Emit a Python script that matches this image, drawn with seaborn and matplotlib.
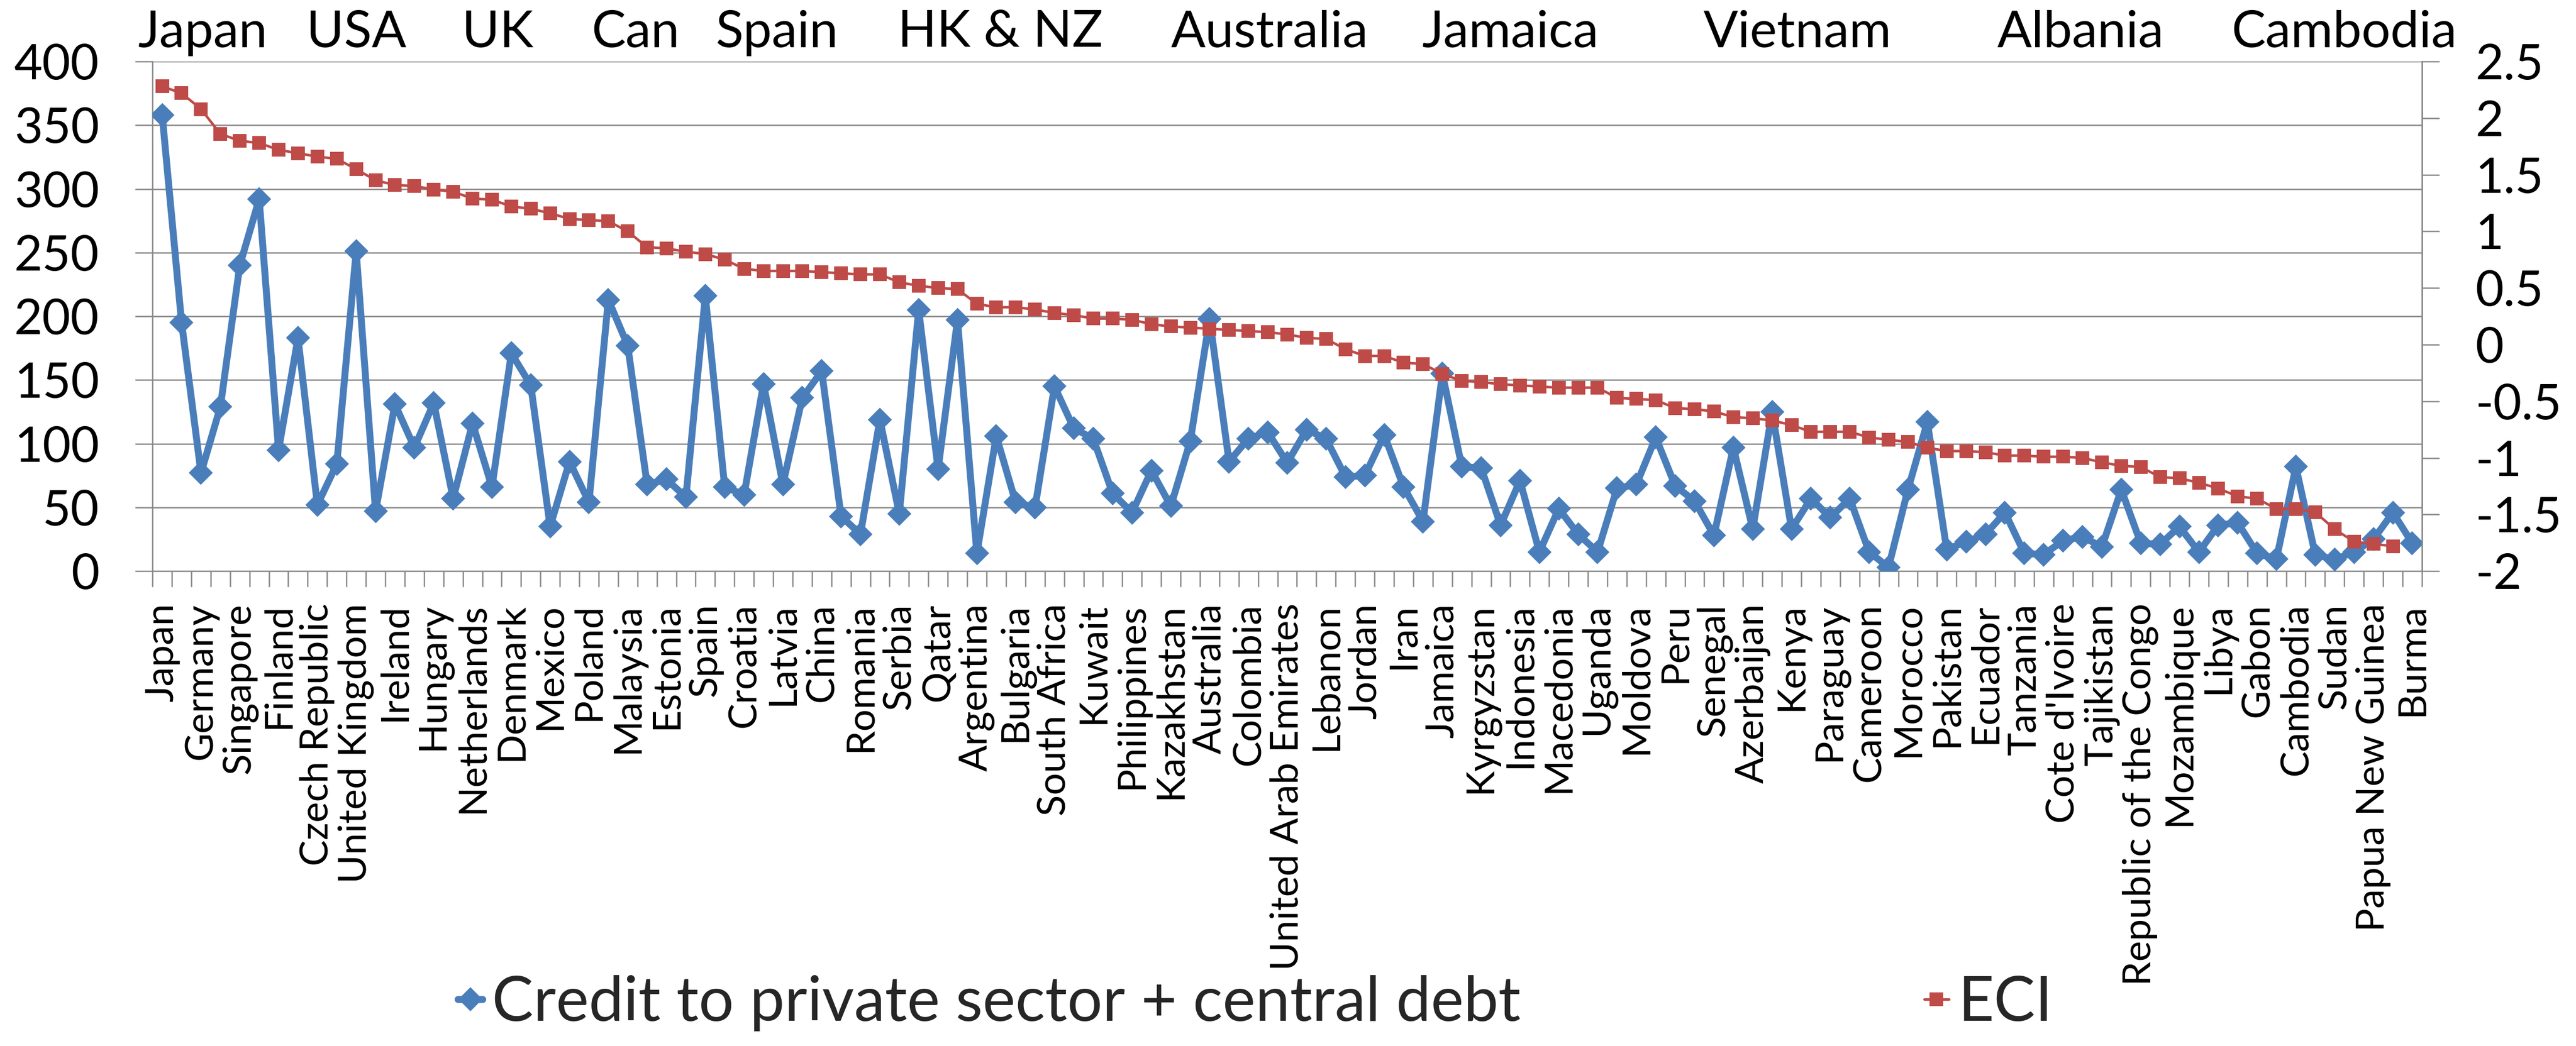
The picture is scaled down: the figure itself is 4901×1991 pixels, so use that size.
import numpy as np
import pandas as pd
import matplotlib
matplotlib.use("Agg")
import matplotlib.pyplot as plt
import matplotlib.transforms as mtransforms
from matplotlib.lines import Line2D
from matplotlib.ticker import FuncFormatter
import seaborn as sns

# Country labels shown under every second category
tick_labels = [
    "Japan", "Germany", "Singapore", "Finland", "Czech Republic", "United Kingdom",
    "Ireland", "Hungary", "Netherlands", "Denmark", "Mexico", "Poland", "Malaysia",
    "Estonia", "Spain", "Croatia", "Latvia", "China", "Romania", "Serbia", "Qatar",
    "Argentina", "Bulgaria", "South Africa", "Kuwait", "Philippines", "Kazakhstan",
    "Australia", "Colombia", "United Arab Emirates", "Lebanon", "Jordan", "Iran",
    "Jamaica", "Kyrgyzstan", "Indonesia", "Macedonia", "Uganda", "Moldova", "Peru",
    "Senegal", "Azerbaijan", "Kenya", "Paraguay", "Cameroon", "Morocco", "Pakistan",
    "Ecuador", "Tanzania", "Cote d'Ivoire", "Tajikistan", "Republic of the Congo",
    "Mozambique", "Libya", "Gabon", "Cambodia", "Sudan", "Papua New Guinea", "Burma",
]

# Credit to private sector + central government debt (% of GDP)
credit = [
    358, 195, 77, 129, 240, 292, 95, 183, 52, 84,
    251, 47, 131, 97, 132, 57, 116, 66, 171, 146,
    35, 86, 54, 213, 177, 68, 72, 58, 216, 66,
    60, 147, 68, 136, 157, 43, 29, 119, 45, 205,
    80, 197, 14, 106, 54, 50, 145, 112, 104, 61,
    46, 79, 51, 102, 198, 86, 104, 109, 85, 111,
    104, 74, 75, 107, 66, 39, 155, 82, 81, 36,
    71, 15, 49, 29, 15, 65, 68, 105, 67, 55,
    28, 97, 33, 125, 33, 57, 42, 57, 15, 3,
    64, 117, 17, 23, 29, 46, 14, 13, 24, 27,
    19, 64, 22, 21, 35, 15, 36, 38, 14, 9.5,
    82, 13, 9, 15, 25, 46, 22,
]

# Economic Complexity Index (no value for the last country)
eci = [
    2.28, 2.22, 2.08, 1.86, 1.80, 1.78, 1.72, 1.69, 1.66, 1.64,
    1.55, 1.45, 1.41, 1.40, 1.37, 1.35, 1.29, 1.28, 1.22, 1.20,
    1.16, 1.11, 1.10, 1.09, 1.00, 0.86, 0.85, 0.82, 0.80, 0.75,
    0.67, 0.65, 0.65, 0.65, 0.64, 0.63, 0.62, 0.62, 0.55, 0.52,
    0.50, 0.49, 0.36, 0.33, 0.33, 0.31, 0.28, 0.26, 0.23, 0.23,
    0.22, 0.18, 0.16, 0.15, 0.14, 0.13, 0.12, 0.11, 0.09, 0.06,
    0.05, -0.04, -0.10, -0.10, -0.16, -0.17, -0.26, -0.32, -0.33, -0.35,
    -0.36, -0.37, -0.38, -0.38, -0.38, -0.47, -0.48, -0.49, -0.56, -0.57,
    -0.59, -0.64, -0.65, -0.67, -0.71, -0.77, -0.77, -0.77, -0.82, -0.84,
    -0.86, -0.91, -0.94, -0.94, -0.95, -0.98, -0.98, -0.99, -0.99, -1.00,
    -1.04, -1.07, -1.08, -1.17, -1.18, -1.22, -1.27, -1.34, -1.36, -1.45,
    -1.45, -1.48, -1.63, -1.74, -1.76, -1.78, np.nan,
]

# Headline country names written above the plot
headline_labels = ["Japan", "USA", "UK", "Can", "Spain", "HK & NZ", "Australia",
                   "Jamaica", "Vietnam", "Albania", "Cambodia"]
headline_pos = [2.1, 10.0, 17.3, 24.4, 31.7, 43.2, 57.1, 69.5, 84.3, 98.9, 112.5]

series_names = ["Credit to private sector + central debt", "ECI"]

sns.set_style("white")
plt.rcParams["font.family"] = ["Lato", "DejaVu Sans"]
plt.rcParams["axes.unicode_minus"] = False

BLUE = "#4A7EBB"
RED = "#BE4B48"
GRID = "#878787"

n = len(credit)
df = pd.DataFrame({"pos": np.arange(n), "credit": credit, "eci": eci})

fig = plt.figure(figsize=(49.01, 19.91), dpi=100)
ax = fig.add_axes([0.0592, 0.4540, 0.9402 - 0.0592, 0.9412 - 0.4540])
ax2 = ax.twinx()

sns.lineplot(data=df, x="pos", y="credit", ax=ax, color=BLUE, linewidth=9.5,
             marker="D", markersize=20, mew=3, mec=BLUE, legend=False, zorder=3)
sns.lineplot(data=df, x="pos", y="eci", ax=ax2, color=RED, linewidth=3.5,
             marker="s", markersize=17, mew=1.5, mec=RED, legend=False, zorder=4)

# Left axis
ax.set_ylim(0, 400)
ax.set_yticks(np.arange(0, 401, 50))
ax.yaxis.set_major_formatter(FuncFormatter(lambda v, p: f"{v:g}"))
ax.grid(axis="y", color=GRID, linewidth=1.8)
ax.grid(axis="x", visible=False)
ax.set_axisbelow(True)
ax.tick_params(axis="y", which="major", left=True, length=24, width=1.8,
               color=GRID, pad=49, labelsize=67, labelcolor="black")

# Category axis: boundary ticks, labels on every second category
ax.set_xlim(-0.5, n - 0.5)
ax.set_xticks(np.arange(-0.5, n, 1.0))
ax.set_xticklabels([])
ax.set_xticks(np.arange(0, n, 2), labels=tick_labels, minor=True)
ax.tick_params(axis="x", which="major", bottom=True, length=21.6, width=1.8,
               color=GRID, direction="out")
ax.tick_params(axis="x", which="minor", bottom=True, length=0, pad=44,
               labelsize=53.5, labelrotation=90, labelcolor="black")
ax.set_xlabel("")
ax.set_ylabel("")

# Right axis
ax2.set_ylim(-2, 2.5)
ax2.set_yticks(np.arange(-2, 2.51, 0.5))
ax2.yaxis.set_major_formatter(FuncFormatter(lambda v, p: f"{v:g}"))
ax2.tick_params(axis="y", which="major", right=True, length=24, width=1.8,
                color=GRID, pad=49, labelsize=67, labelcolor="black")
ax2.set_ylabel("")
ax2.grid(False)

for sp in ["top"]:
    ax.spines[sp].set_visible(False)
    ax2.spines[sp].set_visible(False)
for sp in ["left", "bottom", "right"]:
    ax.spines[sp].set_color(GRID)
    ax.spines[sp].set_linewidth(1.8)
ax2.spines["left"].set_visible(False)
ax2.spines["bottom"].set_visible(False)
ax2.spines["right"].set_color(GRID)
ax2.spines["right"].set_linewidth(1.8)

# Headline names above the plot area
trans = mtransforms.blended_transform_factory(ax.transData, fig.transFigure)
for lbl, pos in zip(headline_labels, headline_pos):
    ax.text(pos, 0.9548, lbl, transform=trans, ha="center", va="baseline",
            fontsize=70, color="black")

# Legend
handles = [
    Line2D([], [], color=BLUE, linewidth=9.5, marker="D", markersize=20, mew=3, mec=BLUE),
    Line2D([], [], color=RED, linewidth=3.5, marker="s", markersize=17, mew=1.5, mec=RED),
]
fig.legend(handles, series_names, loc="center", bbox_to_anchor=(0.4873, 0.041),
           ncol=2, frameon=False, fontsize=85, handlelength=0.4,
           handletextpad=0.15, columnspacing=6.5)

fig.savefig("out.png", dpi=100)
